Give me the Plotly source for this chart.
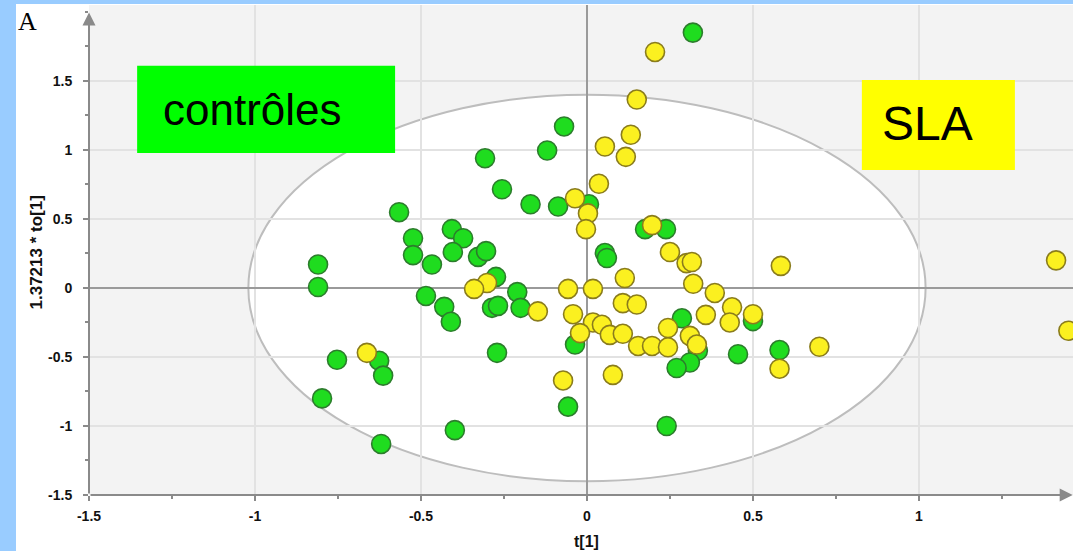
import plotly.graph_objects as go

# PCA score plot: first predictive component t[1] vs orthogonal component to[1]
controles_x = [0.319, -0.069, -0.12, -0.307, -0.256, -0.17, -0.087, 0.006, -0.566, -0.407,
               -0.373, -0.524, -0.524, -0.467, -0.404, -0.328, -0.304, -0.81, -0.81, -0.274,
               -0.21, -0.485, -0.2, -0.286, -0.268, -0.43, -0.41, -0.753, -0.626, -0.614,
               -0.798, -0.271, -0.398, -0.62, 0.175, 0.238, 0.054, 0.06, 0.286, 0.5,
               -0.036, 0.334, 0.31, 0.27, 0.455, -0.057, 0.24, 0.58]
controles_y = [1.85, 1.17, 0.996, 0.94, 0.715, 0.606, 0.59, 0.606, 0.549, 0.426,
               0.36, 0.36, 0.238, 0.17, 0.26, 0.225, 0.267, 0.17, 0.007, 0.08,
               -0.03, -0.058, -0.144, -0.144, -0.13, -0.137, -0.245, -0.52, -0.527, -0.635,
               -0.80, -0.47, -1.03, -1.13, 0.426, 0.426, 0.253, 0.217, -0.22, -0.24,
               -0.41, -0.455, -0.54, -0.58, -0.48, -0.86, -1.0, -0.45]

sla_x = [0.205, 0.15, 0.132, 0.054, 0.117, 0.036, -0.036, 0.003, -0.003, 0.196,
         0.25, 0.30, 0.316, 0.114, 0.32, 0.385, -0.057, 0.018, -0.301, -0.34,
         -0.148, 0.108, 0.15, -0.042, 0.437, 0.5, 0.358, 0.43, 0.018, 0.045,
         -0.021, 0.069, 0.108, 0.154, 0.196, 0.244, 0.244, 0.31, 0.331, -0.663,
         -0.072, 0.078, 0.584, 1.413, 1.45, 0.58, 0.70]
sla_y = [1.71, 1.365, 1.11, 1.025, 0.95, 0.755, 0.65, 0.54, 0.426, 0.455,
         0.26, 0.18, 0.188, 0.072, 0.03, -0.036, -0.007, -0.007, 0.036, -0.007,
         -0.17, -0.11, -0.12, -0.19, -0.14, -0.19, -0.195, -0.25, -0.25, -0.267,
         -0.327, -0.34, -0.332, -0.42, -0.42, -0.43, -0.29, -0.347, -0.41, -0.47,
         -0.67, -0.63, 0.16, 0.20, -0.31, -0.585, -0.426]

tick_vals_x = [-1.5, -1, -0.5, 0, 0.5, 1]
tick_text_x = ["-1.5", "-1", "-0.5", "0", "0.5", "1"]
tick_vals_y = [-1.5, -1, -0.5, 0, 0.5, 1, 1.5]
tick_text_y = ["-1.5", "-1", "-0.5", "0", "0.5", "1", "1.5"]

# Hotelling T2 ellipse semi-axes
ellipse_a = 1.02
ellipse_b = 1.40

x_range = [-1.5, 1.464]
y_range = [-1.5, 2.05]

GREEN = "#1fdc1f"
GREEN_EDGE = "#2c7d2c"
YELLOW = "#fbf020"
YELLOW_EDGE = "#8a7c1c"
AXIS = "#8a8a8a"

fig = go.Figure()
fig.add_trace(go.Scatter(
    x=controles_x, y=controles_y, mode="markers", name="contrôles",
    marker=dict(size=19, color=GREEN, line=dict(color=GREEN_EDGE, width=1.6)),
))
fig.add_trace(go.Scatter(
    x=sla_x, y=sla_y, mode="markers", name="SLA",
    marker=dict(size=19, color=YELLOW, line=dict(color=YELLOW_EDGE, width=1.6)),
))

tickfont = dict(family="Liberation Sans", size=14, color="#111111", weight="bold")

fig.update_xaxes(
    range=x_range, tickmode="array", tickvals=tick_vals_x, ticktext=tick_text_x,
    ticks="outside", ticklen=5, tickwidth=1.5, tickcolor=AXIS, tickfont=tickfont,
    showgrid=True, gridcolor="#e2e2e2", gridwidth=1.5,
    zeroline=True, zerolinecolor="#9a9a9a", zerolinewidth=2,
    minor=dict(tick0=0, dtick=0.25, ticks="outside", ticklen=3, tickcolor=AXIS, showgrid=False),
    showline=False, ticklabelstandoff=3,
)
fig.update_yaxes(
    range=y_range, tickmode="array", tickvals=tick_vals_y, ticktext=tick_text_y,
    ticks="outside", ticklen=5, tickwidth=1.5, tickcolor=AXIS, tickfont=tickfont,
    showgrid=True, gridcolor="#e2e2e2", gridwidth=1.5,
    zeroline=True, zerolinecolor="#9a9a9a", zerolinewidth=2,
    minor=dict(tick0=0, dtick=0.25, ticks="outside", ticklen=3, tickcolor=AXIS, showgrid=False),
    showline=False, ticklabelstandoff=8,
)

shapes = [
    # confidence ellipse
    dict(type="circle", xref="x", yref="y", x0=-ellipse_a, x1=ellipse_a,
         y0=-ellipse_b, y1=ellipse_b, fillcolor="white",
         line=dict(color="#bdbdbd", width=2), layer="below"),
    # group label boxes
    dict(type="rect", xref="x", yref="y", x0=-1.355, x1=-0.578, y0=0.978, y1=1.609,
         fillcolor="#00ff00", line=dict(width=0), layer="above"),
    dict(type="rect", xref="x", yref="y", x0=0.828, x1=1.289, y0=0.855, y1=1.507,
         fillcolor="#ffff00", line=dict(width=0), layer="above"),
    # light blue frame
    dict(type="rect", xref="paper", yref="paper", x0=-0.0905, x1=-0.0742, y0=-0.115, y1=1.011,
         fillcolor="#99ccff", line=dict(width=0), layer="above"),
    dict(type="rect", xref="paper", yref="paper", x0=-0.0905, x1=1.0, y0=1.002, y1=1.011,
         fillcolor="#99ccff", line=dict(width=0), layer="above"),
]

annotations = [
    # axis lines with arrowheads
    dict(x=-1.5, y=1.995, ax=-1.5, ay=-1.5, xref="x", yref="y", axref="x", ayref="y",
         text="", showarrow=True, arrowhead=2, arrowsize=1.3, arrowwidth=2, arrowcolor=AXIS),
    dict(x=1.463, y=-1.5, ax=-1.5, ay=-1.5, xref="x", yref="y", axref="x", ayref="y",
         text="", showarrow=True, arrowhead=2, arrowsize=1.3, arrowwidth=2, arrowcolor=AXIS),
    # group labels
    dict(x=-1.009, y=1.29, xref="x", yref="y", text="contrôles", showarrow=False,
         font=dict(family="Liberation Sans", size=44, color="black")),
    dict(x=1.027, y=1.19, xref="x", yref="y", text="SLA", showarrow=False,
         font=dict(family="Liberation Sans", size=48, color="black")),
    # axis titles
    dict(x=0, y=-0.116, xref="x", yref="paper", text="t[1]", showarrow=False,
         font=dict(family="Liberation Sans", size=16, color="#111111", weight="bold")),
    dict(x=-0.065, y=0.494, xref="paper", yref="paper", text="1.37213 * to[1]",
         showarrow=False, textangle=-90,
         font=dict(family="Liberation Sans", size=17, color="#111111", weight="bold")),
    # panel letter
    dict(x=-0.0742, y=1.0, xref="paper", yref="paper", text="A", showarrow=False,
         xanchor="left", yanchor="top",
         font=dict(family="Liberation Serif", size=26, color="black")),
]

fig.update_layout(
    width=1073, height=551,
    margin=dict(l=89, r=0, t=5, b=56),
    paper_bgcolor="white", plot_bgcolor="#f3f3f3",
    showlegend=False,
    shapes=shapes, annotations=annotations,
)

fig.write_html("out.html")
